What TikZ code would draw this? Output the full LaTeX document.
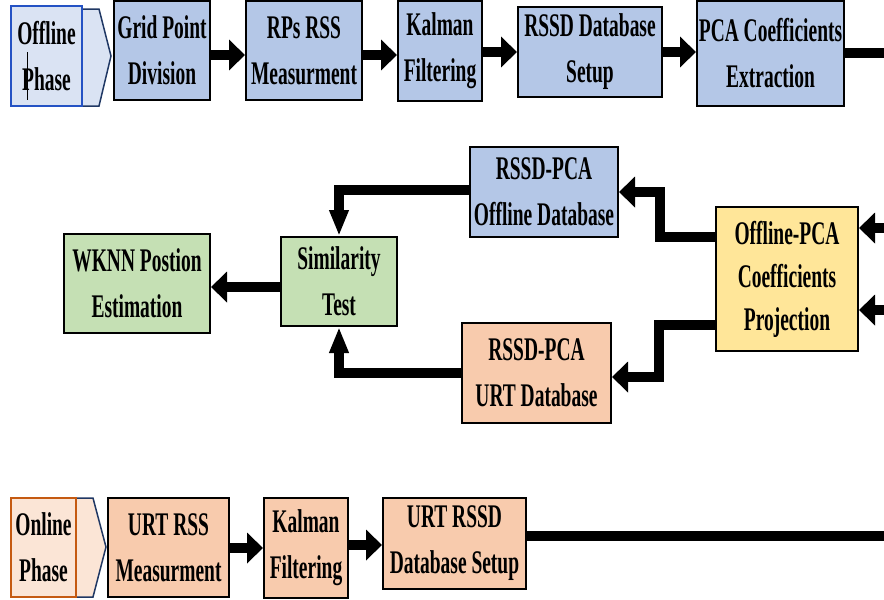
\documentclass[tikz,border=0pt]{standalone}
\usepackage{fontspec}
\newfontfamily\condfont{Liberation Serif Bold}[FakeStretch=0.59]
\usetikzlibrary{arrows.meta}
\definecolor{bluefill}{HTML}{B4C7E7}
\definecolor{bluelight}{HTML}{DAE3F3}
\definecolor{blueedge}{HTML}{2452C4}
\definecolor{navy}{HTML}{203864}
\definecolor{orangefill}{HTML}{F8CBAD}
\definecolor{orangelight}{HTML}{FBE5D6}
\definecolor{orangeedge}{HTML}{C55A11}
\definecolor{greenfill}{HTML}{C5E0B4}
\definecolor{yellowfill}{HTML}{FFE699}
\tikzset{
  box/.style={draw=black, line width=2pt, align=center, inner sep=0pt,
    font=\condfont\fontsize{33}{46}\selectfont, text=black},
  harr/.style={line width=10pt, -{Triangle[length=16pt,width=30pt]}, line join=miter},
  varr/.style={line width=10pt, -{Triangle[length=26pt,width=18pt]}, line join=miter},
  plain/.style={line width=10pt, line join=miter},
  chev/.style={draw=navy, line width=1.5pt},
}
\begin{document}
\begin{tikzpicture}[x=1pt,y=-1pt]
\useasboundingbox (0,0) rectangle (884,600);
% ---------- Offline row ----------
\draw[chev, fill=bluelight] (82,9) -- (99,9) -- (111,56) -- (99,106) -- (82,106) -- cycle;
\node[box, draw=blueedge, fill=bluelight, minimum width=71pt, minimum height=100pt] (offph) at (46.5,56) {Offline\\Phase};
\draw[line width=0.8pt] (27,52) -- (27,100);
\node[box, fill=bluefill, minimum width=96pt, minimum height=99pt] (grid) at (162,50.5) {Grid Point\\Division};
\node[box, fill=bluefill, minimum width=116pt, minimum height=99pt] (rps) at (304,50.5) {RPs RSS\\Measurment};
\node[box, fill=bluefill, minimum width=84pt, minimum height=100pt] (kal) at (440,51) {Kalman\\Filtering};
\node[box, fill=bluefill, minimum width=144pt, minimum height=90pt] (rssd) at (590,52) {RSSD Database\\Setup};
\node[box, fill=bluefill, minimum width=147pt, minimum height=105pt] (pca) at (770.5,53.5) {PCA Coefficients\\Extraction};
\coordinate (topout) at (900,53);
\draw[harr] (grid.east |- 0,55) -- (rps.west |- 0,55);
\draw[harr] (rps.east |- 0,55) -- (kal.west |- 0,55);
\draw[harr] (kal.east |- 0,52) -- (rssd.west |- 0,52);
\draw[harr] (rssd.east |- 0,52) -- (pca.west |- 0,52);
\draw[plain] (pca.east |- topout) -- (topout);
% ---------- middle ----------
\node[box, fill=bluefill, minimum width=148pt, minimum height=90pt] (offdb) at (544,192) {RSSD-PCA\\Offline Database};
\node[box, fill=greenfill, minimum width=116pt, minimum height=89pt] (sim) at (339,281.5) {Similarity\\Test};
\node[box, fill=greenfill, minimum width=146pt, minimum height=99pt] (wknn) at (137,283.5) {WKNN Postion\\Estimation};
\node[box, fill=orangefill, minimum width=149pt, minimum height=100pt] (urtdb) at (536.5,373) {RSSD-PCA\\URT Database};
\node[box, fill=yellowfill, minimum width=142pt, minimum height=144pt, font=\condfont\fontsize{33}{43}\selectfont] (proj) at (787,279) {Offline-PCA\\Coefficients\\Projection};
\coordinate (in1) at (900,228);
\coordinate (in2) at (900,310);
\draw[harr] (in1) -- (proj.east |- in1);
\draw[harr] (in2) -- (proj.east |- in2);
\draw[harr] (proj.west |- 0,237) -- (660,237) -- (660,192) -- (offdb.east |- 0,192);
\draw[harr] (proj.west |- 0,325) -- (659,325) -- (659,377) -- (urtdb.east |- 0,377);
\draw[varr] (offdb.west |- 0,190) -| (sim.north);
\draw[varr] (urtdb.west |- 0,373) -| (sim.south);
\draw[harr] (sim.west |- 0,287) -- (wknn.east |- 0,287);
% ---------- Online row ----------
\draw[chev, fill=orangelight] (76,498) -- (93,498) -- (106,547) -- (93,597) -- (76,597) -- cycle;
\node[box, draw=orangeedge, fill=orangelight, minimum width=65pt, minimum height=99pt] (onph) at (43.5,547.5) {Online\\Phase};
\node[box, fill=orangefill, minimum width=121pt, minimum height=99pt] (urtrss) at (168.5,547.5) {URT RSS\\Measurment};
\node[box, fill=orangefill, minimum width=84pt, minimum height=100pt] (kal2) at (306,548) {Kalman\\Filtering};
\node[box, fill=orangefill, minimum width=143pt, minimum height=91pt] (urtrssd) at (454.5,543.5) {URT RSSD\\Database Setup};
\coordinate (botout) at (900,536);
\draw[harr] (urtrss.east |- 0,548) -- (kal2.west |- 0,548);
\draw[harr] (kal2.east |- 0,545) -- (urtrssd.west |- 0,545);
\draw[plain] (urtrssd.east |- botout) -- (botout);
\end{tikzpicture}
\end{document}
